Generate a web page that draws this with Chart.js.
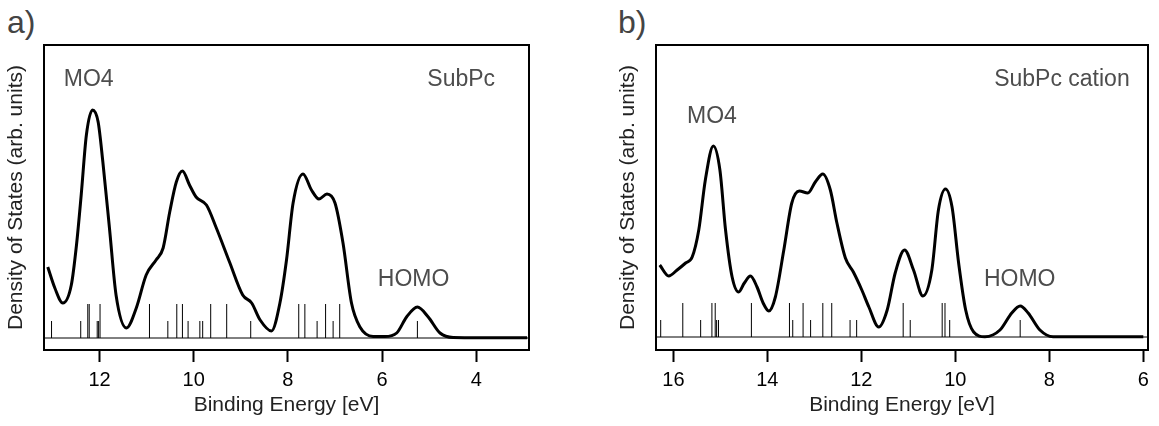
<!DOCTYPE html>
<html>
<head>
<meta charset="utf-8">
<script src="https://cdn.jsdelivr.net/npm/chart.js@4"></script>
<style>
  body { margin: 0; background: #fff; width: 1159px; height: 426px; position: relative; overflow: hidden; font-family: "Liberation Sans", Arial, sans-serif; }
  .panel { position: absolute; top: 0; }
  .tag { position: absolute; font-size: 32px; color: #444; line-height: 1; }
</style>
</head>
<body>
<div class="tag" style="left:7px; top:6px;">a)</div>
<div class="tag" style="left:618px; top:6px;">b)</div>
<div class="panel" style="left:0px;"><canvas id="chartA" width="560" height="426"></canvas></div>
<div class="panel" style="left:612px;"><canvas id="chartB" width="547" height="426"></canvas></div>
<script>
// ---- a) SubPc ----
const curveEnergyA = [13.10, 12.95, 12.78, 12.60, 12.49, 12.39, 12.28, 12.15, 12.03, 11.93, 11.79, 11.65, 11.43, 11.22, 11.01, 10.80, 10.65, 10.51, 10.37, 10.24, 10.09, 9.95, 9.73, 9.52, 9.24, 8.96, 8.77, 8.59, 8.35, 8.17, 8.03, 7.89, 7.68, 7.50, 7.34, 7.17, 7.00, 6.83, 6.65, 6.47, 6.19, 5.94, 5.69, 5.48, 5.25, 5.02, 4.77, 4.49, 3.92, 2.92];
const curveDosA = [71, 50, 35, 53, 93, 143, 203, 228, 216, 176, 110, 43, 10, 30, 63, 78, 90, 126, 156, 167, 153, 141, 133, 110, 76, 43, 35, 18, 7, 35, 78, 135, 164, 148, 139, 144, 135, 95, 35, 11, 1.5, 1.5, 5, 21, 31, 21, 5, 0.5, 0.3, 0.3];
const stickEnergyA = [13.02, 12.40, 12.25, 12.22, 12.05, 12.02, 11.99, 10.94, 10.55, 10.36, 10.24, 10.12, 9.87, 9.81, 9.64, 9.30, 8.79, 7.77, 7.64, 7.38, 7.20, 7.04, 6.90, 5.25];
const stickHeightA = [17, 17, 34, 34, 17, 17, 34, 34, 17, 34, 34, 17, 17, 17, 34, 34, 17, 34, 34, 17, 34, 17, 34, 17];
const xTicksA = [12, 10, 8, 6, 4];

// ---- b) SubPc cation ----
const curveEnergyB = [16.29, 16.10, 15.92, 15.74, 15.60, 15.46, 15.32, 15.15, 15.01, 14.89, 14.75, 14.61, 14.49, 14.36, 14.22, 14.09, 13.97, 13.83, 13.65, 13.48, 13.32, 13.14, 12.98, 12.82, 12.66, 12.52, 12.34, 12.17, 11.99, 11.84, 11.63, 11.45, 11.28, 11.08, 10.89, 10.69, 10.50, 10.36, 10.21, 10.07, 9.93, 9.78, 9.61, 9.37, 9.05, 8.80, 8.62, 8.45, 8.20, 7.92, 6.00];
const curveDosB = [72, 61, 67, 74, 80, 107, 157, 191, 167, 107, 60, 45, 54, 61, 50, 34, 26, 40, 87, 134, 146, 144, 155, 163, 147, 114, 79, 65, 47, 30, 10, 27, 64, 87, 67, 41, 67, 127, 148, 130, 74, 27, 5, 0.3, 7, 24, 31, 24, 7, 0.3, 0.3];
const stickEnergyB = [16.27, 15.80, 15.42, 15.18, 15.11, 15.08, 15.04, 14.34, 13.53, 13.46, 13.24, 13.08, 12.82, 12.63, 12.24, 12.10, 11.11, 10.96, 10.28, 10.22, 10.12, 8.62];
const stickHeightB = [17, 34, 17, 34, 34, 17, 17, 34, 34, 17, 34, 17, 34, 34, 17, 17, 34, 17, 34, 34, 17, 17];
const xTicksB = [16, 14, 12, 10, 8, 6];

const FONT = '"Liberation Sans", Arial, sans-serif';

// vertical sticks as one broken line
function stickPoints(energies, heights) {
  const pts = [];
  energies.forEach((e, i) => {
    pts.push({ x: e, y: 0 }, { x: e, y: heights[i] }, { x: e, y: null });
  });
  return pts;
}

// box round the plot area
const framePlugin = {
  id: 'frame',
  afterDatasetsDraw(chart) {
    const { ctx, chartArea: a } = chart;
    ctx.save();
    ctx.strokeStyle = '#000';
    ctx.lineWidth = 2;
    ctx.strokeRect(a.left, a.top, a.right - a.left, a.bottom - a.top);
    ctx.restore();
  }
};

// text labels placed in data coordinates
const notesPlugin = {
  id: 'notes',
  afterDatasetsDraw(chart, args, opts) {
    const { ctx, scales } = chart;
    ctx.save();
    ctx.font = '23px ' + FONT;
    ctx.fillStyle = '#4d4d4d';
    ctx.textBaseline = 'middle';
    (opts.items || []).forEach(n => {
      ctx.textAlign = n.align;
      ctx.fillText(n.text, scales.x.getPixelForValue(n.x), scales.y.getPixelForValue(n.y));
    });
    ctx.restore();
  }
};

function makeChart(id, cfg) {
  const ctx = document.getElementById(id).getContext('2d');
  return new Chart(ctx, {
    type: 'line',
    data: {
      datasets: [
        {
          data: cfg.energy.map((e, i) => ({ x: e, y: cfg.dos[i] })),
          borderColor: '#000',
          borderWidth: 3,
          pointRadius: 0,
          cubicInterpolationMode: 'monotone',
          order: 0
        },
        {
          data: stickPoints(cfg.sticks, cfg.heights),
          borderColor: '#000',
          borderWidth: 1,
          pointRadius: 0,
          spanGaps: false,
          order: 1
        },
        {
          data: [{ x: cfg.xMax, y: 0 }, { x: cfg.xMin, y: 0 }],
          borderColor: '#000',
          borderWidth: 1,
          pointRadius: 0,
          order: 2
        }
      ]
    },
    options: {
      responsive: false,
      animation: false,
      devicePixelRatio: 1,
      layout: { padding: { top: 45, right: cfg.padRight, left: 0, bottom: 0 } },
      plugins: {
        legend: { display: false },
        tooltip: { enabled: false },
        notes: { items: cfg.notes }
      },
      scales: {
        x: {
          type: 'linear',
          reverse: true,
          min: cfg.xMin,
          max: cfg.xMax,
          afterBuildTicks: axis => { axis.ticks = cfg.ticks.map(v => ({ value: v })); },
          afterFit: axis => { axis.height = 76; },
          border: { display: false },
          grid: { display: true, drawOnChartArea: false, drawTicks: true, tickLength: 12, tickColor: '#000', tickWidth: 2 },
          ticks: { color: '#000', font: { family: FONT, size: 20 }, padding: 6, maxRotation: 0 },
          title: { display: true, text: 'Binding Energy [eV]', color: '#222', font: { family: FONT, size: 21 }, padding: { top: 0, bottom: 8 } }
        },
        y: {
          min: cfg.yMin,
          max: cfg.yMax,
          afterFit: axis => { axis.width = cfg.yWidth; },
          border: { display: false },
          grid: { display: false },
          ticks: { display: false },
          title: { display: true, text: 'Density of States (arb. units)', color: '#222', font: { family: FONT, size: 21 }, padding: { top: 4, bottom: 0 } }
        }
      }
    },
    plugins: [framePlugin, notesPlugin]
  });
}

makeChart('chartA', {
  energy: curveEnergyA, dos: curveDosA,
  sticks: stickEnergyA, heights: stickHeightA,
  ticks: xTicksA, xMin: 2.88, xMax: 13.18, yMin: -12, yMax: 293,
  yWidth: 44, padRight: 31,
  notes: [
    { text: 'MO4', x: 12.76, y: 258, align: 'left' },
    { text: 'SubPc', x: 3.60, y: 258, align: 'right' },
    { text: 'HOMO', x: 5.33, y: 58, align: 'center' }
  ]
});

makeChart('chartB', {
  energy: curveEnergyB, dos: curveDosB,
  sticks: stickEnergyB, heights: stickHeightB,
  ticks: xTicksB, xMin: 5.9, xMax: 16.37, yMin: -13, yMax: 292,
  yWidth: 44, padRight: 11,
  notes: [
    { text: 'MO4', x: 15.71, y: 220, align: 'left' },
    { text: 'SubPc cation', x: 6.29, y: 257, align: 'right' },
    { text: 'HOMO', x: 8.63, y: 57, align: 'center' }
  ]
});
</script>
</body>
</html>
